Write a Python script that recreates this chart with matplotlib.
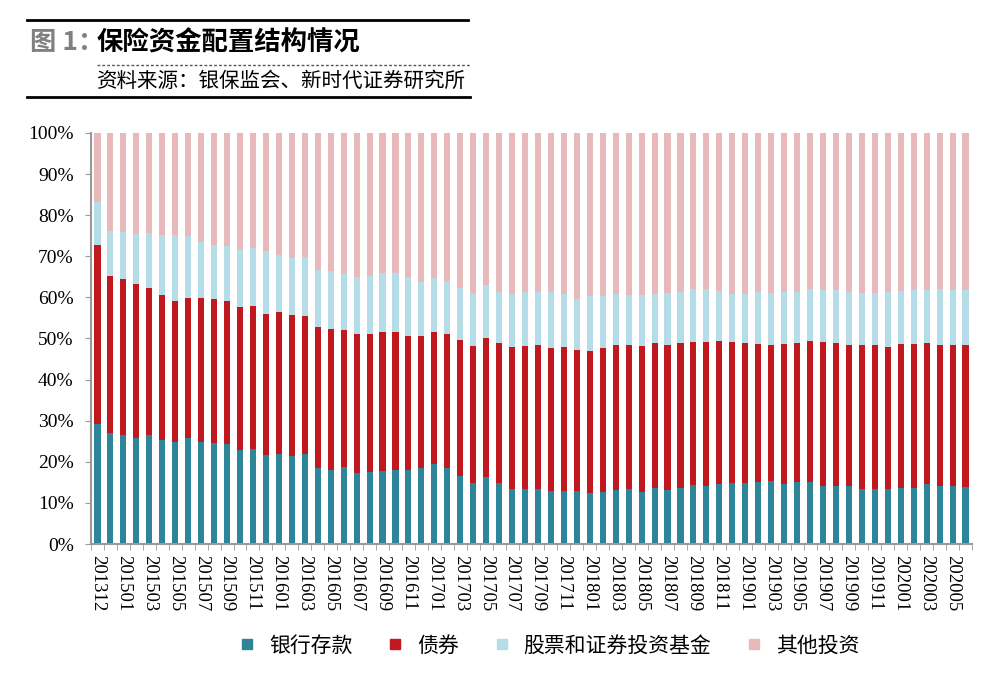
import numpy as np
import matplotlib.pyplot as plt
from matplotlib.lines import Line2D

plt.rcParams['font.family'] = ['Noto Sans CJK SC', 'DejaVu Sans']

months = ["201312", "201412"] + ["%d%02d" % (y, m) for y in range(2015, 2021) for m in range(1, 13)]
months = months[:68]

deposit = [29.3, 27.0, 26.4, 25.9, 26.6, 25.2, 24.7, 25.7, 24.9, 24.5, 24.3, 22.8, 23.2, 21.7, 22.0, 21.3, 22.0,
           18.5, 18.1, 18.7, 17.2, 17.6, 17.8, 17.9, 17.9, 18.4, 19.5, 18.5, 16.6, 14.8, 16.2, 14.8, 13.4, 13.4,
           13.5, 12.8, 13.0, 12.8, 12.4, 12.6, 13.1, 13.3, 12.6, 13.6, 13.1, 13.7, 14.3, 14.0, 14.5, 14.8, 14.8,
           15.0, 15.3, 14.7, 15.0, 15.0, 14.2, 14.2, 14.0, 13.5, 13.3, 13.5, 13.7, 13.7, 14.6, 14.1, 14.0, 13.8]
bonds = [43.4, 38.2, 38.0, 37.4, 35.8, 35.4, 34.4, 34.2, 34.9, 35.1, 34.8, 34.8, 34.8, 34.3, 34.4, 34.3, 33.5,
         34.2, 34.3, 33.3, 33.8, 33.6, 33.7, 33.6, 32.7, 32.1, 32.1, 32.6, 33.0, 33.4, 34.0, 34.1, 34.6, 34.8,
         35.0, 35.0, 35.0, 34.5, 34.6, 35.0, 35.2, 35.1, 35.5, 35.2, 35.3, 35.1, 34.8, 35.2, 34.8, 34.3, 34.0,
         33.7, 33.2, 33.9, 33.9, 34.5, 34.9, 34.7, 34.5, 34.9, 35.1, 34.5, 34.9, 34.9, 34.3, 34.2, 34.5, 34.6]
stocks = [10.4, 11.0, 11.5, 12.1, 13.2, 14.5, 16.2, 15.0, 13.7, 13.1, 13.3, 14.2, 14.1, 15.3, 13.8, 13.9, 14.3,
          14.0, 14.0, 13.7, 13.9, 13.9, 14.4, 14.4, 14.4, 13.3, 13.0, 12.9, 12.8, 12.8, 12.9, 12.4, 12.8, 13.1,
          12.9, 13.5, 12.8, 12.4, 13.3, 12.7, 12.5, 12.1, 12.4, 12.0, 12.7, 12.5, 12.9, 12.8, 12.3, 11.7, 12.0,
          12.6, 12.6, 12.7, 12.5, 12.6, 12.8, 12.8, 12.7, 12.7, 12.7, 13.3, 13.0, 13.2, 12.9, 13.7, 13.4, 13.5]
deposit = np.array(deposit)
bonds = np.array(bonds)
stocks = np.array(stocks)
other = 100 - deposit - bonds - stocks

names = ["银行存款", "债券", "股票和证券投资基金", "其他投资"]
colors = ["#2E8499", "#C0181F", "#B4DDE7", "#E8B9BA"]

fig = plt.figure(figsize=(10, 6.97), dpi=100)
ax = fig.add_axes([0.091, 0.2195, 0.881, 0.5897])

x = np.arange(len(months))
bottom = np.zeros(len(months))
for vals, c in zip([deposit, bonds, stocks, other], colors):
    ax.bar(x, vals / 100, 0.47, bottom=bottom, color=c)
    bottom += vals / 100

ax.set_xlim(-0.5, len(months) - 0.5)
ax.set_ylim(0, 1)
ax.set_yticks(np.arange(0, 1.01, 0.1))
ax.set_yticklabels(["%d%%" % v for v in range(0, 101, 10)], fontfamily="Liberation Serif", fontsize=14)
ax.set_xticks(x[::2])
ax.set_xticklabels(months[::2], rotation=270, fontfamily="Liberation Serif", fontsize=13.5)
ax.set_xticks(np.arange(-0.5, len(months), 1), minor=True)
ax.tick_params(axis="x", which="major", length=0, pad=8)
ax.tick_params(axis="x", which="minor", length=4.5, color="#999999")
ax.tick_params(axis="y", length=4.5, color="#999999", pad=8)
for s in ["top", "right"]:
    ax.spines[s].set_visible(False)
for s in ["left", "bottom"]:
    ax.spines[s].set_color("#999999")
    ax.spines[s].set_linewidth(1.5)

# legend
handles = [Line2D([], [], marker="s", linestyle="", color=c, markersize=7) for c in colors]
fig.legend(handles, names, loc="center", bbox_to_anchor=(0.543, 0.074), ncol=4, frameon=False,
           fontsize=15, handletextpad=0.05, columnspacing=1.05)

# header
fig.add_artist(Line2D([0.027, 0.468], [1 - 20 / 697] * 2, color="black", lw=2))
fig.add_artist(Line2D([0.097, 0.470], [1 - 65 / 697] * 2, color="#555555", lw=1, linestyle=(0, (2, 1.5))))
fig.add_artist(Line2D([0.027, 0.470], [1 - 97 / 697] * 2, color="black", lw=2))
fig.text(0.030, 1 - 43 / 697, "图 1：", fontsize=19, fontweight="bold", color="#808080", va="center")
fig.text(0.097, 1 - 43 / 697, "保险资金配置结构情况", fontsize=19, fontweight="bold", color="black", va="center")
fig.text(0.097, 1 - 81 / 697, "资料来源：银保监会、新时代证券研究所", fontsize=14.8, color="black", va="center")

fig.savefig("out.png", dpi=100)
